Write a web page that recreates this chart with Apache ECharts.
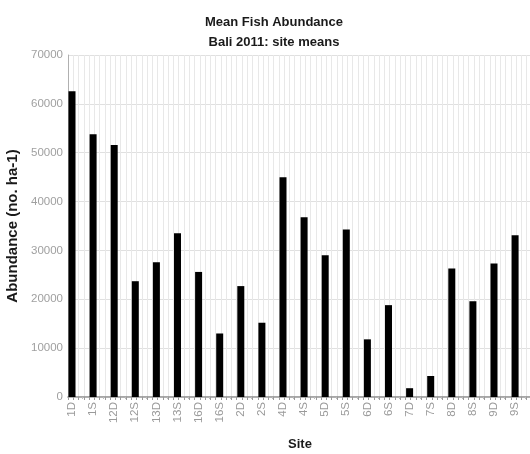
<!DOCTYPE html>
<html>
<head>
<meta charset="utf-8">
<script src="https://cdn.jsdelivr.net/npm/echarts@6/dist/echarts.min.js"></script>
<style>
  html, body { margin: 0; padding: 0; background: #fff; }
  #chart { width: 530px; height: 454px; }
</style>
</head>
<body>
<div id="chart"></div>
<script>
// Sites surveyed in Bali, 2011
const sites = ['1D', '1S', '12D', '12S', '13D', '13S', '16D', '16S', '2D', '2S', '4D',
               '4S', '5D', '5S', '6D', '6S', '7D', '7S', '8D', '8S', '9D', '9S'];
// Mean fish abundance per site (no. ha-1)
const abundance = [62600, 53800, 51600, 23700, 27600, 33500, 25600, 13000, 22700, 15200, 45000,
                   36800, 29000, 34300, 11800, 18800, 1800, 4300, 26300, 19600, 27300, 33100];
// Y axis ticks
const yMin = 0, yMax = 70000, yStep = 10000;

const FONT = '"Liberation Sans", Arial, sans-serif';
const chart = echarts.init(document.getElementById('chart'), null, { renderer: 'canvas' });

// Fine vertical rules: four per site
const fineDivs = sites.length * 4;

chart.setOption({
  animation: false,
  backgroundColor: '#ffffff',
  title: {
    text: 'Mean Fish Abundance\nBali 2011: site means',
    left: 269,
    top: 7,
    textAlign: 'center',
    textStyle: { fontFamily: FONT, fontSize: 13, fontWeight: 'bold', color: '#1a1a1a', lineHeight: 20 }
  },
  grid: [
    // frame, rules and value axis
    { left: 68, right: -2, top: 55, bottom: 57, containLabel: false, outerBoundsMode: 'none' },
    // bars, placed on site bands
    { left: 61.45, right: 4.35, top: 55, bottom: 57, containLabel: false, outerBoundsMode: 'none' }
  ],
  xAxis: [
    {
      gridIndex: 0, type: 'value', position: 'top',
      min: 0, max: fineDivs, interval: 1,
      axisLine: { show: true, lineStyle: { color: '#8a8a8a', width: 1.5 } },
      axisTick: { show: true, inside: true, length: 3, lineStyle: { color: '#9a9a9a' } },
      axisLabel: { show: false },
      splitLine: { show: true, lineStyle: { color: '#e8e8e8', width: 1 } }
    },
    {
      gridIndex: 0, type: 'value', position: 'bottom',
      min: 0, max: fineDivs,
      name: 'Site', nameLocation: 'middle', nameGap: 41,
      nameTextStyle: { fontFamily: FONT, fontSize: 13, fontWeight: 'bold', color: '#1a1a1a' },
      axisLine: { show: true, lineStyle: { color: '#b0b0b0' } },
      axisTick: { show: false },
      axisLabel: { show: false },
      splitLine: { show: false }
    },
    {
      gridIndex: 1, type: 'category', data: sites, position: 'bottom',
      boundaryGap: true,
      axisLine: { show: false },
      axisTick: { show: true, length: 2, lineStyle: { color: '#bdbdbd' } },
      axisLabel: {
        rotate: 90, margin: 5, interval: 0,
        fontFamily: FONT, fontSize: 11.5, color: '#9a9a9a'
      },
      splitLine: { show: false }
    }
  ],
  yAxis: [
    {
      gridIndex: 0, type: 'value', min: yMin, max: yMax, interval: yStep,
      name: 'Abundance (no. ha-1)', nameLocation: 'middle', nameGap: 44,
      nameTextStyle: { fontFamily: FONT, fontSize: 15, fontWeight: 'bold', color: '#1a1a1a' },
      axisLine: { show: true, lineStyle: { color: '#b0b0b0' } },
      axisTick: { show: false },
      axisLabel: {
        fontFamily: FONT, fontSize: 11.5, color: '#a0a0a0', margin: 5,
        formatter: v => String(v)
      },
      splitLine: { show: true, lineStyle: { color: '#e0e0e0' } }
    },
    {
      gridIndex: 1, type: 'value', min: yMin, max: yMax, interval: yStep, show: false
    }
  ],
  series: [
    {
      type: 'bar',
      xAxisIndex: 2,
      yAxisIndex: 1,
      data: abundance,
      barWidth: 7,
      itemStyle: { color: '#000000' }
    }
  ]
});
</script>
</body>
</html>
